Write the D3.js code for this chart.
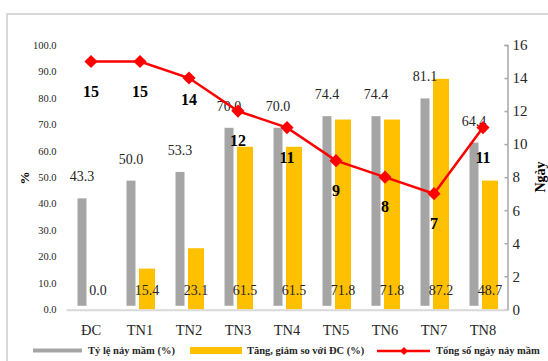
<!DOCTYPE html>
<html>
<head>
<meta charset="utf-8">
<script src="https://cdn.jsdelivr.net/npm/d3@7"></script>
<style>
  html, body { margin: 0; padding: 0; background: #fff; }
  svg { display: block; font-family: "Liberation Serif", "Times New Roman", serif; }
</style>
</head>
<body>
<svg id="chart" width="548" height="361"></svg>
<script>
// Categories (control + treatments)
const categories = ["ĐC", "TN1", "TN2", "TN3", "TN4", "TN5", "TN6", "TN7", "TN8"];
// Germination rate (%)
const germRate = [43.3, 50.0, 53.3, 70.0, 70.0, 74.4, 74.4, 81.1, 64.4];
// Increase / decrease compared with control (%)
const changeVsControl = [0.0, 15.4, 23.1, 61.5, 61.5, 71.8, 71.8, 87.2, 48.7];
// Total number of germination days
const germDays = [15, 15, 14, 12, 11, 9, 8, 7, 11];
// Axis ticks
const leftTicks = [0, 10, 20, 30, 40, 50, 60, 70, 80, 90, 100];
const rightTicks = [0, 2, 4, 6, 8, 10, 12, 14, 16];
// Legend labels
const legendLabels = ["Tỷ lệ nảy mầm (%)", "Tăng, giảm so với ĐC (%)", "Tổng số ngày nảy mầm"];

const GRAY = "#a5a5a5", GOLD = "#ffc000", RED = "#ff0000";
const svg = d3.select("#chart");

// Outer frame
svg.append("rect").attr("x", 7).attr("y", 14).attr("width", 600).attr("height", 400)
  .attr("fill", "none").attr("stroke", "#d9d9d9").attr("stroke-width", 2);

const plot = { left: 66.5, right: 507.5, top: 45, bottom: 309.3 };

const x = d3.scaleBand().domain(categories).range([plot.left, plot.right]).padding(0);
const center = c => x(c) + x.bandwidth() / 2;
const sub = d3.scaleBand().domain(["rate", "change"]).range([-17, 15]);
const yL = d3.scaleLinear().domain([0, 100]).range([plot.bottom, plot.top]);
const yR = d3.scaleLinear().domain([0, 16]).range([plot.bottom, plot.top]);

// Left axis (labels only)
const gL = svg.append("g").attr("transform", `translate(${plot.left - 8},0)`)
  .call(d3.axisLeft(yL).tickValues(leftTicks).tickFormat(d3.format(".1f")).tickSize(0).tickPadding(2));
gL.select(".domain").remove();
gL.selectAll("text").attr("font-size", 10.5).attr("fill", "#262626")
  .attr("font-family", "Liberation Serif, serif");

// Right axis
const gR = svg.append("g").attr("transform", `translate(${plot.right},0)`)
  .call(d3.axisRight(yR).tickValues(rightTicks).tickSizeInner(-3).tickSizeOuter(-3).tickPadding(5));
gR.select(".domain").attr("stroke", "#a6a6a6").attr("stroke-width", 1.5);
gR.selectAll(".tick line").attr("stroke", "#a6a6a6").attr("stroke-width", 1.5);
gR.selectAll("text").attr("font-size", 15).attr("fill", "#262626")
  .attr("font-family", "Liberation Serif, serif");

// Gray bars: germination rate (white outline as in the original style)
svg.append("g").selectAll("rect").data(categories).join("rect")
  .attr("x", (c) => center(c) + sub("rate"))
  .attr("width", sub.bandwidth())
  .attr("y", (c, i) => yL(germRate[i]))
  .attr("height", (c, i) => yL(0) - yL(germRate[i]))
  .attr("fill", GRAY).attr("stroke", "#fff").attr("stroke-width", 7);

// Gold bars: change vs control
svg.append("g").selectAll("rect").data(categories).join("rect")
  .attr("x", (c) => center(c) + sub("change"))
  .attr("width", sub.bandwidth())
  .attr("y", (c, i) => yL(changeVsControl[i]))
  .attr("height", (c, i) => yL(0) - yL(changeVsControl[i]))
  .attr("fill", GOLD);

// Category baseline
svg.append("line").attr("x1", plot.left).attr("x2", plot.right)
  .attr("y1", plot.bottom + 1).attr("y2", plot.bottom + 1)
  .attr("stroke", "#d9d9d9").attr("stroke-width", 2);

// Category labels
svg.append("g").selectAll("text").data(categories).join("text")
  .attr("x", c => center(c)).attr("y", plot.bottom + 26)
  .attr("text-anchor", "middle").attr("font-size", 14.5).attr("fill", "#262626")
  .text(c => c);

// Value labels on gray bars
svg.append("g").selectAll("text").data(categories).join("text")
  .attr("x", c => center(c) + sub("rate") + sub.bandwidth() / 2)
  .attr("y", (c, i) => yL(germRate[i]) - 13.5)
  .attr("text-anchor", "middle").attr("font-size", 14).attr("fill", "#262626")
  .text((c, i) => germRate[i].toFixed(1));

// Value labels near base of gold bars
svg.append("g").selectAll("text").data(categories).join("text")
  .attr("x", c => center(c) + sub("change") + sub.bandwidth() / 2)
  .attr("y", yL(0) - 14)
  .attr("text-anchor", "middle").attr("font-size", 14).attr("fill", "#262626")
  .text((c, i) => changeVsControl[i].toFixed(1));

// Line: total germination days (secondary axis)
const line = d3.line().x((d, i) => center(categories[i])).y(d => yR(d));
svg.append("path").datum(germDays).attr("d", line)
  .attr("fill", "none").attr("stroke", RED).attr("stroke-width", 2.5);

const diamond = d3.symbol().type(d3.symbolDiamond2).size(110);
svg.append("g").selectAll("path").data(germDays).join("path")
  .attr("transform", (d, i) => `translate(${center(categories[i])},${yR(d)})`)
  .attr("d", diamond).attr("fill", RED);

// Day labels (bold, under each marker)
const dayNudge = { "TN2": -8 };
svg.append("g").selectAll("text").data(germDays).join("text")
  .attr("x", (d, i) => center(categories[i]))
  .attr("y", (d, i) => yR(d) + 35 + (dayNudge[categories[i]] || 0))
  .attr("text-anchor", "middle").attr("font-size", 16).attr("font-weight", "bold").attr("fill", "#000")
  .text(d => d);

// Axis titles
svg.append("text").attr("transform", "translate(29,178) rotate(-90)")
  .attr("text-anchor", "middle").attr("font-size", 13).attr("font-weight", "bold").text("%");
svg.append("text").attr("transform", "translate(545,177) rotate(-90)")
  .attr("text-anchor", "middle").attr("font-size", 14).attr("font-weight", "bold").text("Ngày");

// Legend
const lg = svg.append("g").attr("font-size", 10.5).attr("font-weight", "bold").attr("fill", "#262626");
lg.append("line").attr("x1", 33).attr("x2", 82).attr("y1", 350.5).attr("y2", 350.5)
  .attr("stroke", GRAY).attr("stroke-width", 4);
lg.append("text").attr("x", 88).attr("y", 354).text(legendLabels[0]);
lg.append("rect").attr("x", 190).attr("y", 347).attr("width", 52).attr("height", 7).attr("fill", GOLD);
lg.append("text").attr("x", 247).attr("y", 354).text(legendLabels[1]);
lg.append("line").attr("x1", 377).attr("x2", 430).attr("y1", 351).attr("y2", 351)
  .attr("stroke", RED).attr("stroke-width", 2.5);
lg.append("path").attr("transform", "translate(404,351)")
  .attr("d", d3.symbol().type(d3.symbolDiamond2).size(40)).attr("fill", RED);
lg.append("text").attr("x", 436).attr("y", 354).text(legendLabels[2]);
</script>
</body>
</html>
